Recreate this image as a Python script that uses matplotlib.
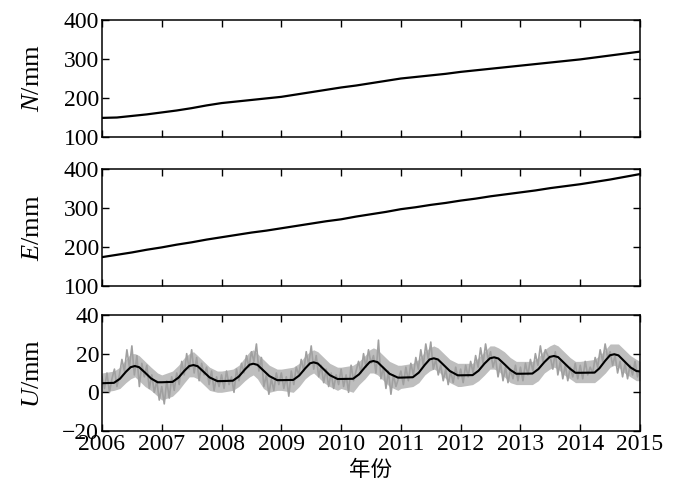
import matplotlib
matplotlib.use("Agg")
import matplotlib.pyplot as plt
import numpy as np

plt.rcParams['font.family'] = ['Liberation Serif', 'DejaVu Serif']
plt.rcParams['mathtext.fontset'] = 'custom'
plt.rcParams['mathtext.rm'] = 'Liberation Serif'
plt.rcParams['mathtext.it'] = 'Liberation Serif:italic'

# N, E series (quarterly)
t_q = [2006.0, 2006.25, 2006.5, 2006.75, 2007.0, 2007.25, 2007.5, 2007.75,
       2008.0, 2008.25, 2008.5, 2008.75, 2009.0, 2009.25, 2009.5, 2009.75,
       2010.0, 2010.25, 2010.5, 2010.75, 2011.0, 2011.25, 2011.5, 2011.75,
       2012.0, 2012.25, 2012.5, 2012.75, 2013.0, 2013.25, 2013.5, 2013.75,
       2014.0, 2014.25, 2014.5, 2014.75, 2015.0]
n_mm = [149, 150, 154, 158, 163, 168, 174, 181, 187, 191, 195, 199, 203, 209,
        215, 221, 227, 232, 238, 244, 250, 254, 258, 262, 267, 271, 275, 279,
        283, 287, 291, 295, 299, 304, 309, 314, 319]
e_mm = [174, 180, 186, 193, 199, 206, 212, 219, 225, 231, 237, 242, 248, 254,
        260, 266, 271, 278, 284, 290, 297, 302, 308, 313, 319, 324, 330, 335,
        340, 345, 351, 356, 361, 367, 373, 380, 387]

# U seasonal model (black line knots)
u_fit_t = [2006.00, 2006.20, 2006.30, 2006.40, 2006.48, 2006.55, 2006.62, 2006.72, 2006.82, 2006.93,
           2007.00, 2007.18, 2007.28, 2007.38, 2007.46, 2007.53, 2007.60, 2007.70, 2007.80, 2007.93,
           2008.00, 2008.19, 2008.29, 2008.39, 2008.47, 2008.53, 2008.60, 2008.70, 2008.80, 2008.93,
           2009.00, 2009.20, 2009.30, 2009.40, 2009.48, 2009.54, 2009.61, 2009.71, 2009.81, 2009.94,
           2010.00, 2010.20, 2010.30, 2010.40, 2010.48, 2010.54, 2010.61, 2010.71, 2010.81, 2010.95,
           2011.00, 2011.20, 2011.30, 2011.40, 2011.48, 2011.55, 2011.62, 2011.72, 2011.82, 2011.95,
           2012.00, 2012.20, 2012.30, 2012.40, 2012.49, 2012.56, 2012.63, 2012.73, 2012.83, 2012.93,
           2013.00, 2013.20, 2013.30, 2013.40, 2013.49, 2013.56, 2013.63, 2013.73, 2013.83, 2013.92,
           2014.00, 2014.24, 2014.32, 2014.42, 2014.50, 2014.57, 2014.64, 2014.74, 2014.84, 2014.94,
           2015.00]
u_fit = [4.7, 4.9, 7.0, 10.6, 13.0, 13.6, 13.0, 10.2, 7.2, 5.2,
         5.2, 5.4, 7.6, 11.2, 13.6, 14.1, 13.5, 10.6, 7.7, 5.8,
         5.8, 6.0, 8.2, 11.8, 14.3, 14.8, 14.2, 11.3, 8.4, 6.3,
         6.3, 6.4, 8.7, 12.4, 15.0, 15.5, 14.9, 11.9, 8.9, 6.9,
         6.9, 7.0, 9.3, 13.0, 15.7, 16.2, 15.6, 12.6, 9.6, 7.6,
         7.6, 7.8, 10.2, 14.2, 17.0, 17.6, 17.0, 14.0, 11.0, 8.8,
         8.8, 8.9, 11.2, 14.9, 17.6, 18.1, 17.5, 14.6, 11.6, 9.6,
         9.6, 9.7, 12.0, 15.6, 18.3, 18.8, 18.2, 15.2, 12.2, 10.1,
         10.1, 10.2, 12.4, 16.4, 19.2, 19.7, 19.1, 16.0, 12.9, 11.0,
         10.8]

# spread of the daily U solutions (lower / upper edge of the grey band, at the knots above)
u_lo = [0, 1, 2, 5, 7, 8, 6, 3, 1, -2,
        -4, -2, 1, 5, 8, 8, 7, 4, 1, 0,
        0, 1, 3, 6, 8, 9, 7, 2, 0, 1,
        1, 0, 3, 7, 9, 10, 8, 5, 3, 1,
        2, 0, 4, 7, 10, 10, 9, 6, 3, 1,
        2, 3, 5, 9, 11, 12, 11, 8, 5, 3,
        3, 4, 6, 9, 12, 12, 11, 8, 5, 4,
        4, 4, 6, 10, 12, 13, 12, 9, 7, 5,
        5, 5, 7, 10, 13, 14, 13, 10, 8, 6,
        6]
u_hi = [10, 11, 13, 17, 20, 20, 19, 16, 13, 10,
        9, 11, 14, 18, 20, 21, 19, 16, 13, 11,
        11, 12, 14, 18, 21, 22, 20, 17, 14, 12,
        12, 13, 15, 19, 21, 22, 21, 18, 15, 13,
        13, 14, 16, 19, 22, 23, 22, 19, 16, 14,
        14, 15, 17, 21, 23, 24, 23, 20, 17, 15,
        15, 15, 18, 21, 24, 24, 23, 21, 18, 16,
        16, 16, 18, 22, 24, 25, 24, 21, 18, 16,
        16, 17, 19, 22, 25, 25, 25, 22, 19, 17,
        16]

# U observations (half-monthly samples)
u_obs = [8, 2, 10, 0, 7, 12, 3, 9, 17, 11, 22, 13, 24, 9, 19, 3, 15, 8, 14, 2, 9, 0, 6, -4,
         3, -6, 6, -3, 8, 1, 10, 4, 16, 9, 20, 12, 22, 10, 18, 6, 15, 9, 13, 4, 11, 1, 8, 3,
         9, 2, 11, 4, 8, 0, 12, 6, 15, 10, 19, 13, 21, 16, 25, 11, 18, 3, 9, -1, 7, 1, 10, 4,
         10, 2, 8, -2, 11, 4, 13, 9, 17, 11, 21, 14, 24, 12, 19, 8, 14, 5, 12, 3, 10, 2, 9, 4,
         12, 3, 9, 0, 14, 6, 11, 16, 10, 20, 13, 22, 15, 19, 10, 27, 7, 13, 2, 11, -1, 9, 3, 7,
         11, 4, 13, 6, 15, 9, 18, 12, 22, 14, 25, 17, 26, 12, 17, 9, 14, 6, 12, 4, 11, 5, 13, 7,
         12, 5, 14, 8, 16, 10, 19, 13, 23, 15, 25, 17, 21, 13, 18, 8, 15, 6, 13, 5, 12, 7, 14, 6,
         13, 6, 15, 9, 17, 11, 20, 14, 24, 16, 22, 19, 18, 12, 21, 9, 16, 7, 14, 6, 13, 8, 15, 7,
         14, 7, 16, 9, 13, 10, 18, 13, 22, 16, 25, 18, 21, 14, 19, 10, 16, 8, 15, 7, 14, 9, 16, 8,
         12]
u_obs_t = 2006 + np.arange(len(u_obs)) / 24.0

years = list(range(2006, 2016))

fig = plt.figure(figsize=(7, 4.93), dpi=100)
ax1 = fig.add_axes([0.1457, 0.7221, 0.7686, 0.2373])
ax2 = fig.add_axes([0.1457, 0.4199, 0.7686, 0.2373])
ax3 = fig.add_axes([0.1457, 0.1258, 0.7686, 0.2353])

ax1.plot(t_q, n_mm, color='black', linewidth=1.6)
ax2.plot(t_q, e_mm, color='black', linewidth=1.6)
ax3.fill_between(u_fit_t, u_lo, u_hi, color='#bebebe', linewidth=0)
ax3.plot(u_obs_t, u_obs, color='#a0a0a0', linewidth=1.2)
ax3.plot(u_fit_t, u_fit, color='black', linewidth=1.5)

ax1.set_ylim(100, 400)
ax2.set_ylim(100, 400)
ax3.set_ylim(-20, 40)
ax1.set_yticks([100, 200, 300, 400])
ax2.set_yticks([100, 200, 300, 400])
ax3.set_yticks([-20, 0, 20, 40])

ax1.set_ylabel('$N$/mm')
ax2.set_ylabel('$E$/mm')
ax3.set_ylabel('$U$/mm')

for ax in (ax1, ax2, ax3):
    ax.set_xlim(2006, 2015)
    ax.set_xticks(years)
    ax.tick_params(direction='in', top=True, right=True, length=5, width=1,
                   labelsize=17)
    ax.tick_params(axis='y', pad=2)
    ax.tick_params(axis='x', pad=2)
    for s in ax.spines.values():
        s.set_linewidth(1.1)
    ax.yaxis.label.set_size(19)
    ax.yaxis.set_label_coords(-0.108, 0.5)

ax1.tick_params(labelbottom=False)
ax2.tick_params(labelbottom=False)
ax3.set_xticklabels([str(y) for y in years])
ax3.set_xlabel('年份', family=['Noto Sans CJK SC', 'DejaVu Sans'], size=15.5, labelpad=3)

fig.savefig('out.png', dpi=100)
